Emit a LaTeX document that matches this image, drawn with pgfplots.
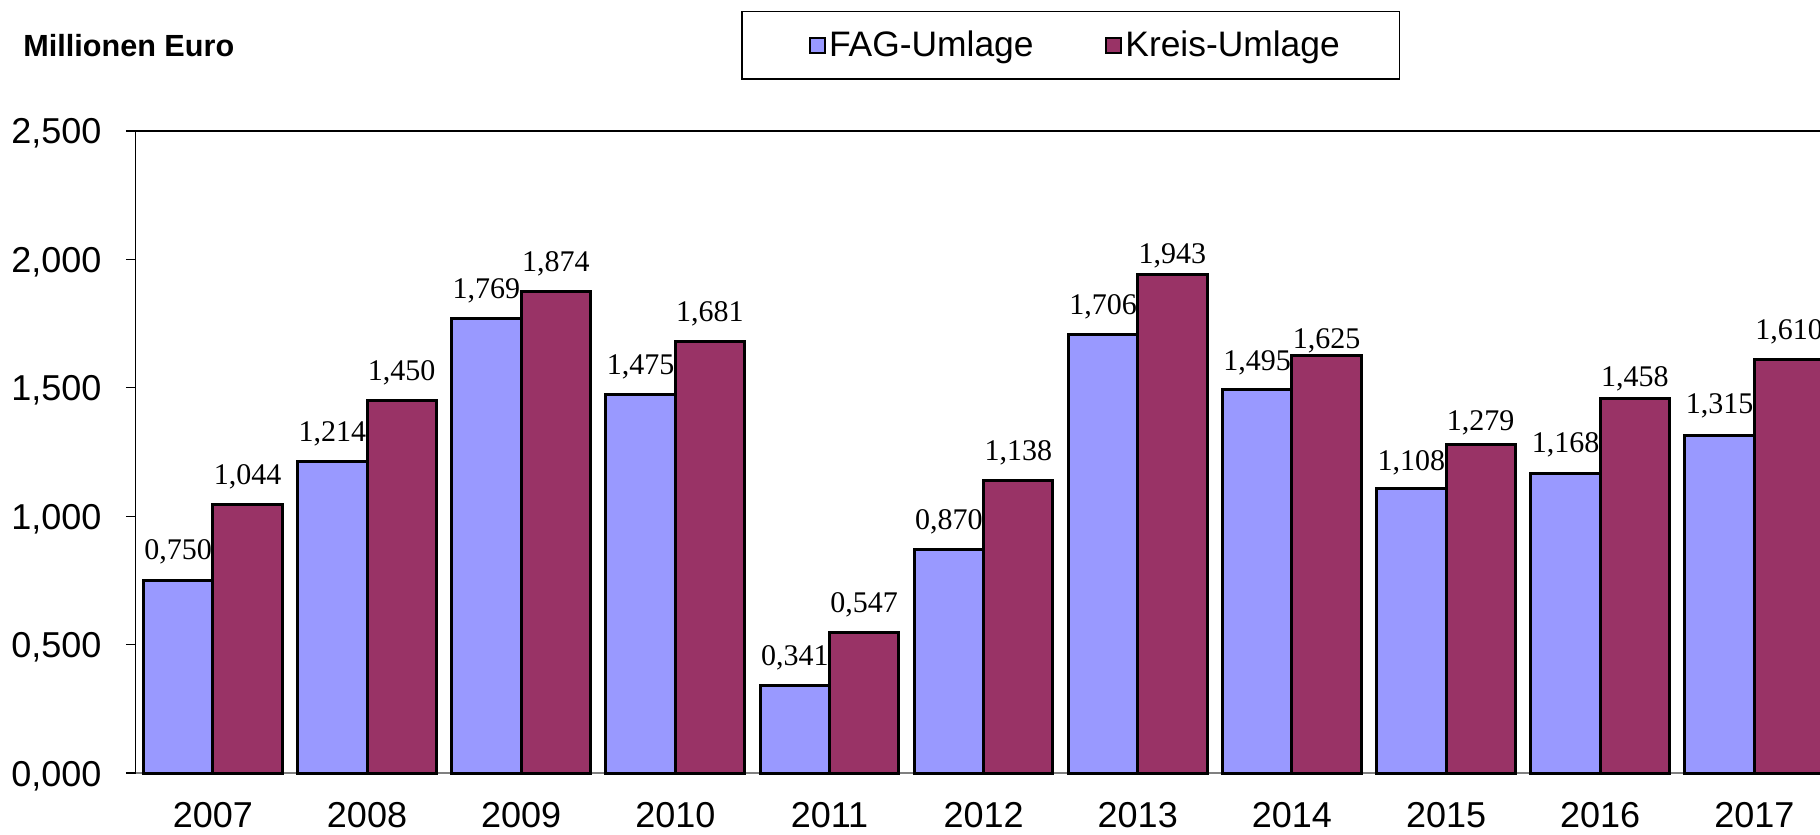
\documentclass[border=0pt]{standalone}
\usepackage{pgfplots}
\usepackage{pgfplotstable}
\pgfplotsset{compat=1.18}
\usepackage{fontspec}
\setmainfont{Liberation Sans}
\newfontfamily\timesfont{Liberation Serif}
\definecolor{fag}{HTML}{9999FF}
\definecolor{kreis}{HTML}{993366}
\pgfplotstableread{
x fag fagoff kreis kreisoff
0 0.750 10.2 1.044 10.0
1 1.214 10.0 1.450 10.0
2 1.769 10.0 1.874 10.0
3 1.475 10.0 1.681 10.0
4 0.341 10.0 0.547 10.0
5 0.870 10.0 1.138 10.0
6 1.706 10.0 1.943 5.4
7 1.495 9.5 1.625 3.7
8 1.108 9.0 1.279 7.0
9 1.168 10.4 1.458 6.0
10 1.315 11.0 1.610 9.8
}\data
\pgfplotsset{
  myleg/.style={legend image code/.code={\path (0pt,0pt); \draw[##1, line width=1pt, draw=black] (3pt,-3.75pt) rectangle (10.5pt,3.75pt);}},
  mylabels/.style={nodes near coords={\pgfmathprintnumber[fixed, fixed zerofill, precision=3, use comma, assume math mode=true]{\pgfplotspointmeta}},
    every node near coord/.append style={font=\timesfont\fontsize{15}{18}\selectfont, anchor=base, yshift=\off pt, inner sep=0pt, text=black}},
}
\begin{document}
\begin{tikzpicture}
\path[use as bounding box] (0,0) rectangle (910pt,417.5pt);
\begin{scope}[overlay]
\begin{axis}[
  at={(67.9pt,31pt)}, anchor=south west,
  scale only axis, width=847.8pt, height=321pt,
  xmin=-0.5, xmax=10.5, ymin=0, ymax=2.5,
  axis x line*=bottom, axis y line*=left,
  x axis line style={draw=gray, line width=0.6pt},
  y axis line style={draw=black, line width=0.6pt},
  xtick={0,...,10},
  xticklabels={2007,2008,2009,2010,2011,2012,2013,2014,2015,2016,2017},
  xtick style={draw=none},
  ytick={0,0.5,1,1.5,2,2.5},
  tick align=outside, major tick length=5pt,
  ytick style={draw=black, line width=0.6pt},
  /pgf/number format/assume math mode=true,
  y tick label style={/pgf/number format/.cd, fixed, fixed zerofill, precision=3, use comma, /tikz/.cd,
    font=\fontsize{18}{22}\selectfont, anchor=base east, inner sep=0pt, xshift=-12pt, yshift=-6.5pt},
  x tick label style={font=\fontsize{18}{22}\selectfont, anchor=north, inner sep=0pt, yshift=-9.5pt},
  ybar, bar width=0.45,
  legend columns=2,
  legend style={at={(0.5515,1.1335)}, anchor=center, draw=black, line width=0.6pt,
    font=\fontsize{17.7}{21}\selectfont, inner xsep=30pt, inner ysep=9.7pt,
    nodes={inner sep=0pt},
    /tikz/every odd column/.style={column sep=1.75pt},
    /tikz/every even column/.style={column sep=32.4pt}},
  clip=false,
]
\addplot[fill=fag, draw=black, line width=1.5pt, bar shift=-0.225, myleg, mylabels,
  visualization depends on={\thisrow{fagoff} \as \off}]
  table[x=x, y=fag] {\data};
\addlegendentry{FAG-Umlage}
\addplot[fill=kreis, draw=black, line width=1.5pt, bar shift=0.225, myleg, mylabels,
  visualization depends on={\thisrow{kreisoff} \as \off}]
  table[x=x, y=kreis] {\data};
\addlegendentry{Kreis-Umlage}
\draw[black, line width=0.6pt] (rel axis cs:0,1) -- (rel axis cs:1,1);
\end{axis}
\node[anchor=west, inner sep=0pt, font=\bfseries\fontsize{15.3}{18}\selectfont] at (11.5pt,394.5pt) {Millionen Euro};
\end{scope}
\end{tikzpicture}
\end{document}
